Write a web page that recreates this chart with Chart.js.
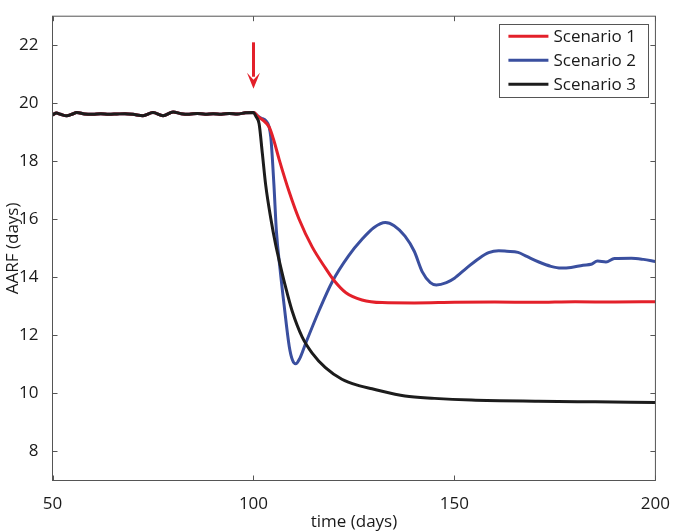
<!DOCTYPE html>
<html>
<head>
<meta charset="utf-8">
<script src="https://cdn.jsdelivr.net/npm/chart.js@4"></script>
<style>
  html, body { margin: 0; padding: 0; background: #fff; }
  #wrap { width: 675px; height: 532px; }
</style>
</head>
<body>
<div id="wrap"><canvas id="c" width="675" height="532"></canvas></div>
<script>
// ---- data ----
const seriesNames = ['Scenario 1', 'Scenario 2', 'Scenario 3'];
const seriesColors = ['#e3202a', '#3a4f9f', '#1c1c1c'];

// common baseline before the intervention (days 50..100)
const baseDays = [50, 51, 52, 53.5, 55, 56, 58, 60, 62, 64, 66, 68, 70, 72.5, 75, 77.5, 80, 82, 84, 86, 88, 90, 92, 94, 96, 98, 100];
const baseVals = [19.60, 19.66, 19.62, 19.57, 19.63, 19.68, 19.63, 19.62, 19.64, 19.62, 19.63, 19.64, 19.62, 19.57, 19.68, 19.57, 19.70, 19.64, 19.62, 19.65, 19.62, 19.64, 19.62, 19.65, 19.63, 19.67, 19.68];

// Scenario 1 after day 100
const s1Days = [101.4, 102.5, 103.9, 105, 106.4, 108.9, 111.3, 114.6, 118, 120, 123, 127, 132, 140, 150, 160, 170, 180, 190, 200];
const s1Vals = [19.51, 19.40, 19.18, 18.75, 18.06, 16.94, 16.02, 15.05, 14.30, 13.90, 13.47, 13.22, 13.13, 13.12, 13.14, 13.15, 13.14, 13.16, 13.15, 13.16];

// Scenario 2 after day 100
const s2Days = [101, 102, 103.06, 104.3, 105.1, 105.7, 106.6, 107.6, 108.9, 109.7, 110.5, 111.5, 113, 116.3, 119.6, 123.7, 127, 130, 132.8, 135, 137.7, 140, 142, 144, 145.5, 148, 150, 153, 156, 158.5, 161, 163, 165.8, 168, 171, 174, 176.5, 179, 182, 184, 185.6, 187.7, 189.8, 194, 197, 200];
const s2Vals = [19.57, 19.48, 19.40, 18.84, 17.16, 15.60, 14.30, 13.07, 11.62, 11.15, 11.02, 11.20, 11.73, 12.85, 13.85, 14.75, 15.31, 15.72, 15.89, 15.78, 15.42, 14.90, 14.19, 13.82, 13.74, 13.82, 13.97, 14.32, 14.64, 14.85, 14.92, 14.90, 14.86, 14.72, 14.53, 14.38, 14.32, 14.34, 14.42, 14.45, 14.56, 14.53, 14.65, 14.66, 14.62, 14.55];

// Scenario 3 after day 100
const s3Days = [100.6, 101.4, 102.2, 103.06, 104.3, 105.5, 106.4, 108, 109.6, 112.1, 114.6, 117.9, 122, 126.2, 129.5, 137.7, 145, 154.2, 170.8, 185, 200];
const s3Vals = [19.55, 19.29, 18.28, 17.16, 16.04, 15.14, 14.58, 13.66, 12.85, 11.95, 11.39, 10.89, 10.49, 10.27, 10.16, 9.91, 9.83, 9.77, 9.73, 9.71, 9.69];

const xTicks = [50, 100, 150, 200];
const yTicks = [8, 10, 12, 14, 16, 18, 20, 22];
const xRange = [50, 200];
const yRange = [7, 23];
const xTitle = 'time (days)';
const yTitle = 'AARF (days)';

// intervention arrow
const arrowDay = 100;
const arrowFrom = 22.1;
const arrowTo = 20.5;

function pts(days, vals) { return days.map((d, i) => ({ x: d, y: vals[i] })); }
const baseline = pts(baseDays, baseVals);
const allData = [
  baseline.concat(pts(s1Days, s1Vals)),
  baseline.concat(pts(s2Days, s2Vals)),
  baseline.concat(pts(s3Days, s3Vals))
];
const drawOrder = [1, 2, 0];

const FONT = '"Open Sans", "Noto Sans", sans-serif';
const FSIZE = 17;
const AXIS_COLOR = '#555';

const overlay = {
  id: 'overlay',
  afterDatasetsDraw(chart) {
    const { ctx, chartArea: a, scales: { x, y } } = chart;
    ctx.save();
    ctx.strokeStyle = AXIS_COLOR;
    ctx.lineWidth = 1;
    ctx.strokeRect(a.left, a.top, a.right - a.left, a.bottom - a.top);
    const L = 5;
    ctx.beginPath();
    xTicks.forEach(v => {
      const px = Math.round(x.getPixelForValue(v)) + 0.5;
      ctx.moveTo(px, a.bottom); ctx.lineTo(px, a.bottom - L);
      ctx.moveTo(px, a.top); ctx.lineTo(px, a.top + L);
    });
    yTicks.forEach(v => {
      const py = Math.round(y.getPixelForValue(v)) + 0.5;
      ctx.moveTo(a.left, py); ctx.lineTo(a.left + L, py);
      ctx.moveTo(a.right, py); ctx.lineTo(a.right - L, py);
    });
    ctx.stroke();

    // arrow
    const ax = x.getPixelForValue(arrowDay);
    const y0 = y.getPixelForValue(arrowFrom);
    const y1 = y.getPixelForValue(arrowTo);
    ctx.strokeStyle = seriesColors[0];
    ctx.fillStyle = seriesColors[0];
    ctx.lineWidth = 3;
    ctx.beginPath();
    ctx.moveTo(ax, y0); ctx.lineTo(ax, y1 - 12);
    ctx.stroke();
    ctx.beginPath();
    ctx.moveTo(ax - 6.5, y1 - 16);
    ctx.lineTo(ax, y1 - 9);
    ctx.lineTo(ax + 6.5, y1 - 16);
    ctx.lineTo(ax, y1);
    ctx.closePath();
    ctx.fill();

    // legend box
    const bw = 149, bh = 73;
    const bx = a.right - 7 - bw, by = a.top + 7.5;
    ctx.fillStyle = '#fff';
    ctx.fillRect(bx, by, bw, bh);
    ctx.strokeStyle = AXIS_COLOR;
    ctx.lineWidth = 1;
    ctx.strokeRect(Math.round(bx) + 0.5, Math.round(by) + 0.5, bw, bh);
    ctx.font = FSIZE + 'px ' + FONT;
    ctx.textBaseline = 'middle';
    ctx.textAlign = 'left';
    seriesNames.forEach((n, i) => {
      const ry = by + 12.5 + i * 24;
      ctx.strokeStyle = seriesColors[i];
      ctx.lineWidth = 3;
      ctx.beginPath();
      ctx.moveTo(bx + 9, ry); ctx.lineTo(bx + 49, ry);
      ctx.stroke();
      ctx.fillStyle = '#1a1a1a';
      ctx.fillText(n, bx + 54, ry + 1);
    });
    ctx.restore();
  }
};

new Chart(document.getElementById('c'), {
  type: 'line',
  data: {
    datasets: allData.map((d, i) => ({
      label: seriesNames[i],
      data: d,
      borderColor: seriesColors[i],
      backgroundColor: seriesColors[i],
      borderWidth: 3,
      pointRadius: 0,
      fill: false,
      cubicInterpolationMode: 'monotone',
      order: drawOrder[i]
    }))
  },
  options: {
    responsive: false,
    animation: false,
    layout: { padding: { top: 4.6, right: 17, left: 0, bottom: 0 } },
    plugins: { legend: { display: false }, tooltip: { enabled: false } },
    scales: {
      x: {
        type: 'linear',
        min: xRange[0], max: xRange[1],
        afterBuildTicks(s) { s.ticks = xTicks.map(v => ({ value: v })); },
        afterFit(s) { s.height = 51.5; },
        grid: { display: false },
        border: { display: false },
        ticks: { color: '#1a1a1a', font: { family: FONT, size: FSIZE }, padding: 5, maxRotation: 0 },
        title: { display: true, text: xTitle, color: '#1a1a1a', font: { family: FONT, size: FSIZE }, padding: { top: 0, bottom: 0 } }
      },
      y: {
        type: 'linear',
        min: yRange[0], max: yRange[1],
        afterBuildTicks(s) { s.ticks = yTicks.map(v => ({ value: v })); },
        afterFit(s) { s.width = 52.5; },
        grid: { display: false },
        border: { display: false },
        ticks: { color: '#1a1a1a', font: { family: FONT, size: FSIZE }, padding: 6 },
        title: { display: true, text: yTitle, color: '#1a1a1a', font: { family: FONT, size: FSIZE }, padding: { top: 3, bottom: 0 } }
      }
    }
  },
  plugins: [overlay]
});
</script>
</body>
</html>
